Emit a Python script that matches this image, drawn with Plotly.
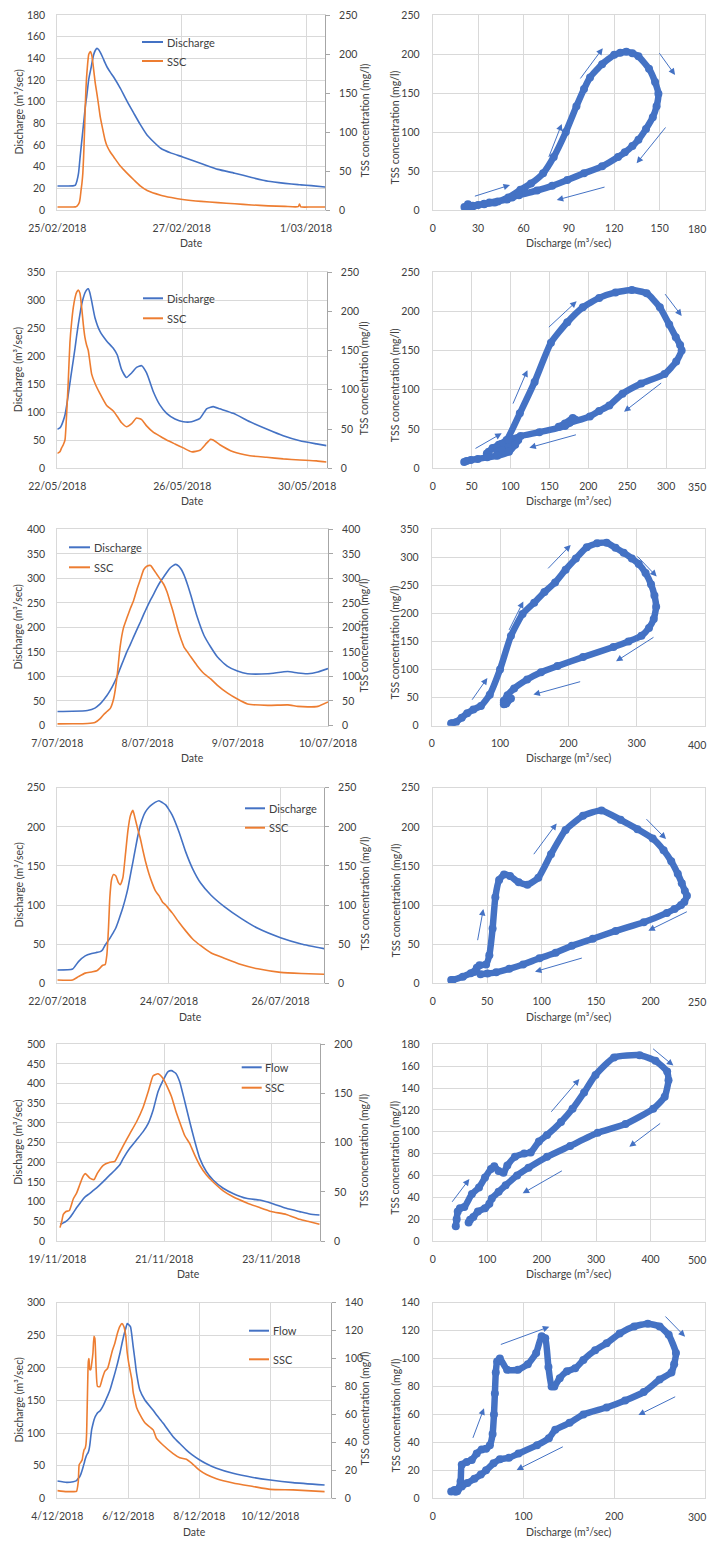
import pandas as pd
import plotly.graph_objects as go

# ---------------- data ----------------
E1_START = "2018-02-25"
E1_HOURS = [0, 6, 7, 7.6, 8.2, 8.5, 8.85, 9.2, 9.5, 9.85, 10.15, 10.5, 10.8, 11.05, 11.3, 11.7, 12.1, 12.4, 12.75, 13.1,
            13.4, 14, 14.6, 15.3, 16, 16.6, 17.5, 18.4, 19.2, 20.5, 21.8, 24.4, 27, 29.6, 32, 34.7, 39.9, 44, 48.4, 55.5,
            62, 68.5, 75, 81.4, 87.9, 93, 93.5, 94, 98, 104]
E1_Q = [22.2, 22.3, 23, 27, 34, 41, 50, 58, 65, 73, 80, 88, 95, 100, 104, 112, 120, 124, 128, 132,
        136, 143, 147, 149.2, 148, 145.5, 141, 136, 132, 127, 122.5, 112, 100, 89, 79, 69, 57, 52.5, 49, 43,
        37.5, 34, 30, 26.5, 24.6, 23.4, 23.3, 23.2, 22.5, 21]
E1_SSC = [3.8, 3.8, 4, 5, 7.5, 9.5, 16, 26, 34, 47, 68, 100, 133, 155, 170, 187, 199, 201.5, 203, 201,
          197, 181, 164, 149, 133, 119, 104, 90, 82, 74, 68, 56, 47, 38.5, 31, 25, 19, 16, 13.5, 11,
          9.5, 8, 6.5, 5.3, 4.6, 4.3, 7.5, 4, 3.9, 3.8]

E2_START = "2018-05-22"
E2_HOURS = [0, 2, 3.3, 4.6, 5.9, 7.2, 8.4, 9.7, 11, 12.3, 13.6, 14.8, 16.1, 17.4, 18.7, 20, 21.2, 22.5, 23.8, 25,
            26.4, 29, 32.8, 37.9, 43, 46.1, 49.4, 53.2, 57.1, 60.9, 64.8, 68.6, 73.7, 78.8, 84, 90.4, 96.8, 103.2,
            109.6, 114.7, 117.8, 119.8, 124.9, 135.2, 148, 160.8, 173.6, 186.4, 199.2, 206.8]
E2_Q = [69.6, 72, 77, 85, 95, 112, 131, 152, 173, 193, 214, 235, 256, 275, 292, 304, 312.5, 318, 320, 313,
        298, 268, 244, 227, 214, 202, 176, 162, 170, 180, 183, 170, 137, 113, 98, 88, 83, 83,
        89, 106, 109, 110, 106, 98, 83, 70, 58, 49, 43.5, 40.5]
E2_SSC = [19, 21, 26, 30, 36, 70, 110, 160, 186, 205, 217, 224, 227, 223, 205, 183, 167, 157, 150, 136,
          120, 108, 95, 80, 73, 66, 58, 53, 57, 64, 62, 54, 46, 41, 36, 31, 26, 21,
          23, 32, 37, 36, 30, 21, 16, 14, 12, 10.6, 9.4, 8]

E3_START = "2018-07-07"
E3_HOURS = [0, 4, 8, 10, 11.4, 12.3, 13.2, 14.1, 15, 15.9, 16.7, 17.6, 18.5, 19.4, 20.3, 21.2, 22.1, 23, 23.9, 24.8,
            25.7, 26.5, 27.4, 28.3, 29.2, 30, 30.8, 31.5, 32.3, 33, 33.7, 34.6, 35.5, 37.2, 39, 40.8, 42.6, 45.3,
            47.9, 50.6, 56, 61.3, 64, 66.6, 69.3, 72]
E3_Q = [28.6, 29, 30.7, 35.5, 44, 52, 61, 72, 85, 100, 116, 133, 150, 165, 180.6, 196, 211, 227, 242, 256,
        269, 281, 293, 303, 313, 321, 326, 328.5, 325, 318, 307, 288, 266, 221.5, 184, 160, 139.7, 120.6,
        111, 105.6, 105.6, 110, 107, 105.6, 109, 116]
E3_SSC = [3.4, 3.5, 4, 6, 14, 22, 28.5, 35, 55, 100, 160, 199, 219, 238, 255, 278, 298, 318, 325, 326,
          317, 308, 298, 288, 272, 252, 232, 212, 190, 174, 160, 150, 140, 122, 106, 95, 82, 66,
          54, 44, 41, 42, 39, 38, 39, 48]

E4_START = "2018-07-22"
E4_HOURS = [0, 6.6, 9.1, 12, 14.8, 17, 18.5, 19.5, 20.6, 21.3, 22, 22.6, 23.3, 24.2, 25.2, 26.2, 27.1, 28.2, 29.3, 30.4,
            31.4, 32.5, 33.6, 34.6, 35.7, 36.8, 37.9, 39.4, 40.8, 42.2, 43.7, 45.2, 46.6, 48, 49.4, 52.3, 55.2, 58.1,
            61.7, 66, 71.8, 79, 86.2, 96, 104.9, 115.3]
E4_Q = [17, 18.3, 27.7, 35, 38, 39.5, 40.5, 43, 49, 52, 55, 57.5, 61, 65.5, 71, 79, 87, 97, 108.6, 122,
        138, 155, 172.5, 188, 202, 212, 219, 225, 228.7, 231.5, 233.4, 231, 228, 222, 215, 193.8, 168, 147,
        127.8, 112.9, 98, 83, 70.3, 58.3, 50.3, 43.9]
E4_SSC = [4.3, 4.3, 8.5, 13, 14.5, 16, 20, 23, 24, 36, 70, 110, 132, 139, 137, 129, 126, 135, 165, 196,
          214, 221, 209, 197, 185, 170, 156, 140, 128, 118, 112, 104, 100, 95, 90, 78, 67, 57,
          48, 39, 32, 24, 18.5, 14, 12.5, 11.5]

E5_START = "2018-11-19"
E5_HOURS = [1.2, 2, 2.7, 3.9, 5.4, 7.2, 8.7, 10.2, 11.6, 12.6, 14.6, 16.5, 18, 20.6, 23.6, 25.8, 28.2, 29.6, 32.5, 35.5,
            38.5, 40.8, 43, 45.2, 47.5, 49.7, 51.2, 53.2, 54.9, 57.2, 59.4, 61.7, 63.9, 66.9, 69.9, 74.4, 78.8, 84.8,
            90.8, 96, 102.7, 108.7, 113.2, 117.6]
E5_Q = [42.4, 44, 46, 50, 58, 72, 85, 96, 107, 113, 121, 130, 137, 151, 168, 180, 195, 210, 235.6, 256.8,
        278, 299, 333, 380, 409, 430.5, 433, 426, 405, 354, 303, 252.5, 210, 176, 155, 134, 121, 108.5,
        104, 96, 83, 74.6, 68.6, 66]
E5_SSC = [13.6, 20, 27, 30, 31, 43, 49, 58, 66, 68.5, 64, 62.5, 69, 77, 80, 81, 91, 97, 109, 121,
          136, 152, 168, 170, 165, 155, 147, 132, 121, 107, 99, 87, 77, 67, 60, 51, 45, 39,
          34, 30, 27, 22, 19.5, 17]

E6_START = "2018-12-04"
E6_HOURS = [0, 6.3, 10.8, 13, 14.2, 14.8, 16, 16.8, 17.5, 18.2, 18.7, 19.3, 19.8, 20.1, 20.4, 20.7, 21, 21.4, 22, 22.6,
            23.2, 24.1, 24.8, 25.4, 26.2, 27.2, 28.8, 30.5, 32.2, 34, 35.6, 37.3, 38.9, 40.6, 42.3, 43.7, 45, 46.2,
            47.3, 48.4, 49.5, 50.4, 51.3, 52.5, 53.6, 55.8, 59.2, 64.8, 67, 71.6, 78.3, 82.8, 87.3, 91, 96.3, 100.8,
            107.6, 118.8, 132.3, 144, 159.3, 180.7]
E6_Q = [26.6, 24.5, 25.5, 27, 30.7, 32, 37.5, 43, 48.5, 54, 58.8, 63, 66, 67.5, 68.5, 69.5, 71, 74, 82, 94,
        104.8, 114, 120, 124, 127.5, 131, 134, 140, 148, 157, 166, 179, 191.6, 206, 222, 237, 250, 260,
        268, 266, 263, 250, 232.5, 212, 191.6, 166, 150.8, 135, 128, 115, 94.5, 84, 74, 67, 58.8, 53,
        46, 38.3, 32, 28, 24, 20.4]
E6_SSC = [5.5, 4.8, 4.8, 5, 12, 24, 26, 27.5, 32, 35, 35.5, 38, 46, 60, 75, 90, 98, 100, 92, 92,
          96, 104, 116, 114.5, 94, 80, 80, 86, 91, 93, 99, 106, 111, 118, 123, 125, 123, 117,
          104, 96, 90, 85, 76, 70, 65, 60, 54, 49, 43, 38, 32, 29, 28, 25, 20, 17,
          14, 11, 8.5, 6.4, 6, 4.8]

FLOW_NAMES = ["Discharge", "Discharge", "Discharge", "Discharge", "Flow", "Flow"]

# direction arrows on the hysteresis plots: (Q start, SSC start, Q tip, SSC tip)
E1_ARROWS = [(26.9, 17.1, 51.1, 32), (76.4, 66.2, 85.3, 110.3), (96.9, 166.7, 112.4, 207.3),
             (149.1, 203, 160.2, 173.1), (154.7, 107.7, 134.8, 59.8), (114.6, 29.9, 82, 12.8)]
E2_ARROWS = [(53.1, 24.2, 88.7, 44.5), (102.4, 80.5, 121.7, 125), (147.4, 178, 185, 212.7),
             (297.3, 223.7, 320, 194), (295.6, 110, 245.9, 72), (186, 43.2, 124.2, 26.3)]
E3_ARROWS = [(57.6, 43.3, 81.5, 84.8), (112.2, 167.9, 134.1, 221.3), (168.3, 277.6, 203.4, 322.1),
             (299, 304.3, 329.3, 265.8), (326.8, 159, 269.8, 114.5), (219.5, 78.9, 148.8, 55.2)]
E4_ARROWS = [(41, 53.2, 46.5, 95), (91.8, 163.1, 113.8, 204.4), (194.9, 211.7, 214.2, 184.4),
             (234.7, 92.4, 198, 67.3), (138.3, 32.8, 93.9, 14.9)]
E5_ARROWS = [(33.7, 34.5, 67.3, 56.7), (215.4, 116.9, 269.3, 148.3), (402, 177, 441.9, 160.5),
             (420.4, 108.6, 361, 86.3), (240, 65, 165.2, 43.6)]
E6_ARROWS = [(43.7, 42.2, 56.5, 64.4), (73.4, 109.7, 128.5, 122.8), (254.8, 131.2, 278, 115.7),
             (268.8, 73.2, 226.6, 59.6), (145, 37.4, 92.5, 20.3)]

# ---------------- layout / style settings ----------------
PAGE_W, PAGE_H = 716, 1541
BODY = 8                      # default page margin of the html body
VISIBLE_RIGHT = 708           # right edge of the visible drawing area (page px)
W, H = PAGE_W - BODY, PAGE_H - BODY
BLUE = "#4472C4"
ORANGE = "#ED7D31"
GRID = "#D9D9D9"
AXIS2 = "#A6A6A6"
TXT = "#404040"
FONT = "Lato"
FS = 10.5
XLAB_DY = 17.5                # centre of x tick labels below the plot area (px)

# per-row axis settings: time range, date tick step (days), Q max/step, SSC max/step, loop x max/step, loop y max/step
AXES = [
    dict(end="2018-03-01 07:20", dd=2, qmax=180, qd=20, smax=250, sd=50, lxmax=180, lxd=30, lymax=250, lyd=50),
    dict(end="2018-05-30 15:00", dd=4, qmax=350, qd=50, smax=250, sd=50, lxmax=350, lxd=50, lymax=250, lyd=50),
    dict(end="2018-07-10 00:00", dd=1, qmax=400, qd=50, smax=400, sd=50, lxmax=400, lxd=100, lymax=350, lyd=50),
    dict(end="2018-07-26 18:40", dd=2, qmax=250, qd=50, smax=250, sd=50, lxmax=250, lxd=50, lymax=250, lyd=50),
    dict(end="2018-11-23 21:50", dd=2, qmax=500, qd=50, smax=200, sd=50, lxmax=500, lxd=100, lymax=180, lyd=20),
    dict(end="2018-12-11 16:50", dd=2, qmax=300, qd=50, smax=140, sd=20, lxmax=300, lxd=100, lymax=140, lyd=20),
]
# pixel geometry of each row (page pixels)
ROWS = [
    dict(top=15, bot=210, lx0=57.3, lx1=325, rx0=432.7, rx1=705, ty=243),
    dict(top=272, bot=468.3, lx0=57.3, lx1=326.7, rx0=432.7, rx1=705, ty=501),
    dict(top=529.3, bot=725.5, lx0=57.3, lx1=328, rx0=431.7, rx1=705, ty=758),
    dict(top=787.7, bot=983.3, lx0=57.3, lx1=324, rx0=432.7, rx1=705, ty=1016.5),
    dict(top=1044.3, bot=1241, lx0=57.3, lx1=320, rx0=432.7, rx1=705, ty=1273.5),
    dict(top=1302.7, bot=1498.3, lx0=57.3, lx1=330.7, rx0=432.7, rx1=705, ty=1531.5),
]
# legend placement: line x0, x1, first entry y, second entry y (page pixels)
LEGENDS = [
    (142, 163, 42, 61), (143, 163, 298.3, 318.3), (69, 90, 547.3, 567.3),
    (245, 265, 808.3, 827.7), (241.7, 261.7, 1067.3, 1087.7), (249, 269, 1330.7, 1359.3),
]

EVENTS = [
    (E1_START, E1_HOURS, E1_Q, E1_SSC, E1_ARROWS),
    (E2_START, E2_HOURS, E2_Q, E2_SSC, E2_ARROWS),
    (E3_START, E3_HOURS, E3_Q, E3_SSC, E3_ARROWS),
    (E4_START, E4_HOURS, E4_Q, E4_SSC, E4_ARROWS),
    (E5_START, E5_HOURS, E5_Q, E5_SSC, E5_ARROWS),
    (E6_START, E6_HOURS, E6_Q, E6_SSC, E6_ARROWS),
]


def fx(p):
    return (p - BODY) / W


def fy(p):
    return 1 - (p - BODY) / H


def ref(prefix, n):
    return prefix if n == 1 else f"{prefix}{n}"


def key(prefix, n):
    return f"{prefix}axis" if n == 1 else f"{prefix}axis{n}"


tickfont = dict(family=FONT, size=FS, color=TXT)
fig = go.Figure()
layout = {}
annotations = []
shapes = []

for r, (start, hours, q, ssc, arrows) in enumerate(EVENTS):
    assert len(hours) == len(q) == len(ssc)
    g = ROWS[r]
    a = AXES[r]
    xl, xr = 2 * r + 1, 2 * r + 2
    yq, ys, yl = 3 * r + 1, 3 * r + 2, 3 * r + 3
    ydom = [fy(g["bot"]), fy(g["top"])]
    times = pd.Timestamp(start) + pd.to_timedelta(hours, unit="h")

    # time series
    fig.add_trace(go.Scatter(x=times, y=q, mode="lines", name=FLOW_NAMES[r], showlegend=False,
                             line=dict(color=BLUE, width=1.6, shape="spline", smoothing=0.5),
                             xaxis=ref("x", xl), yaxis=ref("y", yq)))
    fig.add_trace(go.Scatter(x=times, y=ssc, mode="lines", name="SSC", showlegend=False,
                             line=dict(color=ORANGE, width=1.6, shape="spline", smoothing=0.5),
                             xaxis=ref("x", xl), yaxis=ref("y", ys)))
    # hysteresis loop
    fig.add_trace(go.Scatter(x=q, y=ssc, mode="lines+markers", name="SSC vs Q", showlegend=False,
                             line=dict(color=BLUE, width=6.5, shape="spline", smoothing=0.5),
                             marker=dict(color=BLUE, size=8),
                             xaxis=ref("x", xr), yaxis=ref("y", yl)))

    common = dict(showgrid=True, gridcolor=GRID, gridwidth=1, zeroline=False, showline=True,
                  linecolor=GRID, linewidth=1, mirror=True, ticks="", tickfont=tickfont,
                  automargin=False)
    layout[key("x", xl)] = dict(common, domain=[fx(g["lx0"]), fx(g["lx1"])], anchor=ref("y", yq),
                                type="date", range=[start, a["end"]], tick0=start,
                                dtick=a["dd"] * 86400000, tickformat="%-d/%m/%Y",
                                ticklabelstandoff=8)
    layout[key("y", yq)] = dict(common, domain=ydom, anchor=ref("x", xl), range=[0, a["qmax"]],
                                dtick=a["qd"], tick0=0, ticklabelstandoff=9)
    layout[key("y", ys)] = dict(overlaying=ref("y", yq), side="right", anchor=ref("x", xl),
                                range=[0, a["smax"]], dtick=a["sd"], tick0=0, showgrid=False,
                                zeroline=False, showline=True, linecolor=AXIS2, linewidth=1,
                                ticks="outside", ticklen=4, tickcolor=AXIS2, tickfont=tickfont,
                                ticklabelstandoff=7, automargin=False)
    # loop x axis: the last tick label is pulled inside the page like in the reference
    xt = list(range(0, a["lxmax"] + 1, a["lxd"]))
    layout[key("x", xr)] = dict(common, domain=[fx(g["rx0"]), fx(g["rx1"])], anchor=ref("y", yl),
                                range=[0, a["lxmax"]], tickmode="array", tickvals=xt,
                                ticktext=[str(v) for v in xt[:-1]] + [""], ticklabelstandoff=8)
    annotations.append(dict(x=fx(VISIBLE_RIGHT - 0.5), y=fy(g["bot"] + XLAB_DY + 1.5), xref="paper",
                            yref="paper", text=str(xt[-1]), showarrow=False, xanchor="right",
                            yanchor="middle", font=tickfont))
    layout[key("y", yl)] = dict(common, domain=ydom, anchor=ref("x", xr), range=[0, a["lymax"]],
                                dtick=a["lyd"], tick0=0, ticklabelstandoff=10)

    # arrows on the loop plot
    for (x0, y0, x1, y1) in arrows:
        annotations.append(dict(x=x1, y=y1, ax=x0, ay=y0, xref=ref("x", xr), yref=ref("y", yl),
                                axref=ref("x", xr), ayref=ref("y", yl), text="", showarrow=True,
                                arrowhead=2, arrowsize=1.3, arrowwidth=1, arrowcolor=BLUE,
                                standoff=0, startstandoff=0))

    # axis titles
    tfont = dict(family=FONT, size=FS, color=TXT)
    cy = (g["top"] + g["bot"]) / 2
    annotations += [
        dict(x=fx(18), y=fy(cy), text="Discharge (m³/sec)", textangle=-90),
        dict(x=fx(364), y=fy(cy + 8), text="TSS concentration (mg/l)", textangle=-90),
        dict(x=fx(395), y=fy(cy + 15), text="TSS concentration (mg/l)", textangle=-90),
        dict(x=fx((g["lx0"] + g["lx1"]) / 2), y=fy(g["ty"]), text="Date"),
        dict(x=fx((g["rx0"] + g["rx1"]) / 2), y=fy(g["ty"]), text="Discharge (m³/sec)"),
    ]
    for ann in annotations[-5:]:
        ann.update(xref="paper", yref="paper", showarrow=False, font=tfont,
                   xanchor="center", yanchor="middle")

    # legend
    lx0, lx1, ly1, ly2 = LEGENDS[r]
    for name, color, ly in ((FLOW_NAMES[r], BLUE, ly1), ("SSC", ORANGE, ly2)):
        shapes.append(dict(type="line", xref="paper", yref="paper", x0=fx(lx0), x1=fx(lx1),
                           y0=fy(ly), y1=fy(ly), line=dict(color=color, width=2)))
        annotations.append(dict(x=fx(lx1 + 1.5), y=fy(ly), xref="paper", yref="paper", text=name,
                                showarrow=False, xanchor="left", yanchor="middle",
                                font=dict(family=FONT, size=11, color=TXT)))

fig.update_layout(
    width=W, height=H, margin=dict(l=0, r=0, t=0, b=0, pad=0, autoexpand=False),
    paper_bgcolor="white", plot_bgcolor="white", showlegend=False,
    font=dict(family=FONT, size=FS, color=TXT),
    annotations=annotations, shapes=shapes, **layout,
)
fig.write_html("out.html")
